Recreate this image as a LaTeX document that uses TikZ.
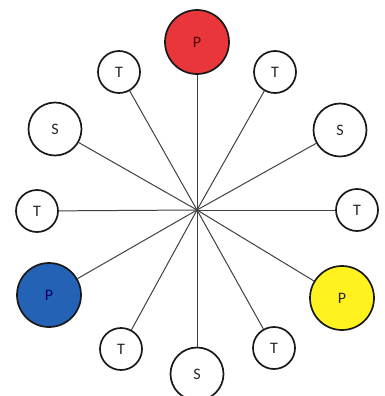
\documentclass[tikz,border=0pt]{standalone}
\usepackage{fontspec}
\setmainfont{Carlito}
\begin{document}
\begin{tikzpicture}[x=1pt,y=-1pt,
  base/.style={circle,draw=black!90,line width=1.7pt,inner sep=0pt,fill=white,
    font=\fontsize{16}{16}\selectfont,text=black!85},
  tnode/.style={base,minimum size=42pt},
  snode/.style={base,minimum size=53pt},
  pnode/.style={base,minimum size=64pt},
  spoke/.style={draw=black!75,line width=1pt}]
\useasboundingbox (0,0) rectangle (385,396);
\definecolor{pred}{HTML}{E8363A}
\definecolor{pblue}{HTML}{2462B6}
\definecolor{pyellow}{HTML}{FFF21E}
\coordinate (c) at (197,210);
\node[pnode,fill=pred,text=black!70!red] (p1) at (197,42) {P};
\node[tnode] (t1) at (275,72) {T};
\node[snode] (s1) at (340,130) {S};
\node[tnode] (t2) at (357,210) {T};
\node[pnode,fill=pyellow] (p2) at (342,298) {P};
\node[tnode] (t3) at (274,348) {T};
\node[snode] (s2) at (197,374) {S};
\node[tnode] (t4) at (121,349) {T};
\node[pnode,fill=pblue,text=black!60!blue] (p3) at (49,295) {P};
\node[tnode] (t5) at (37,211) {T};
\node[snode] (s3) at (55,129) {S};
\node[tnode] (t6) at (119,72) {T};
\foreach \n in {p1,t1,s1,t2,p2,t3,s2,t4,p3,t5,s3,t6}
  \draw[spoke] (c) -- (\n);
\end{tikzpicture}
\end{document}
